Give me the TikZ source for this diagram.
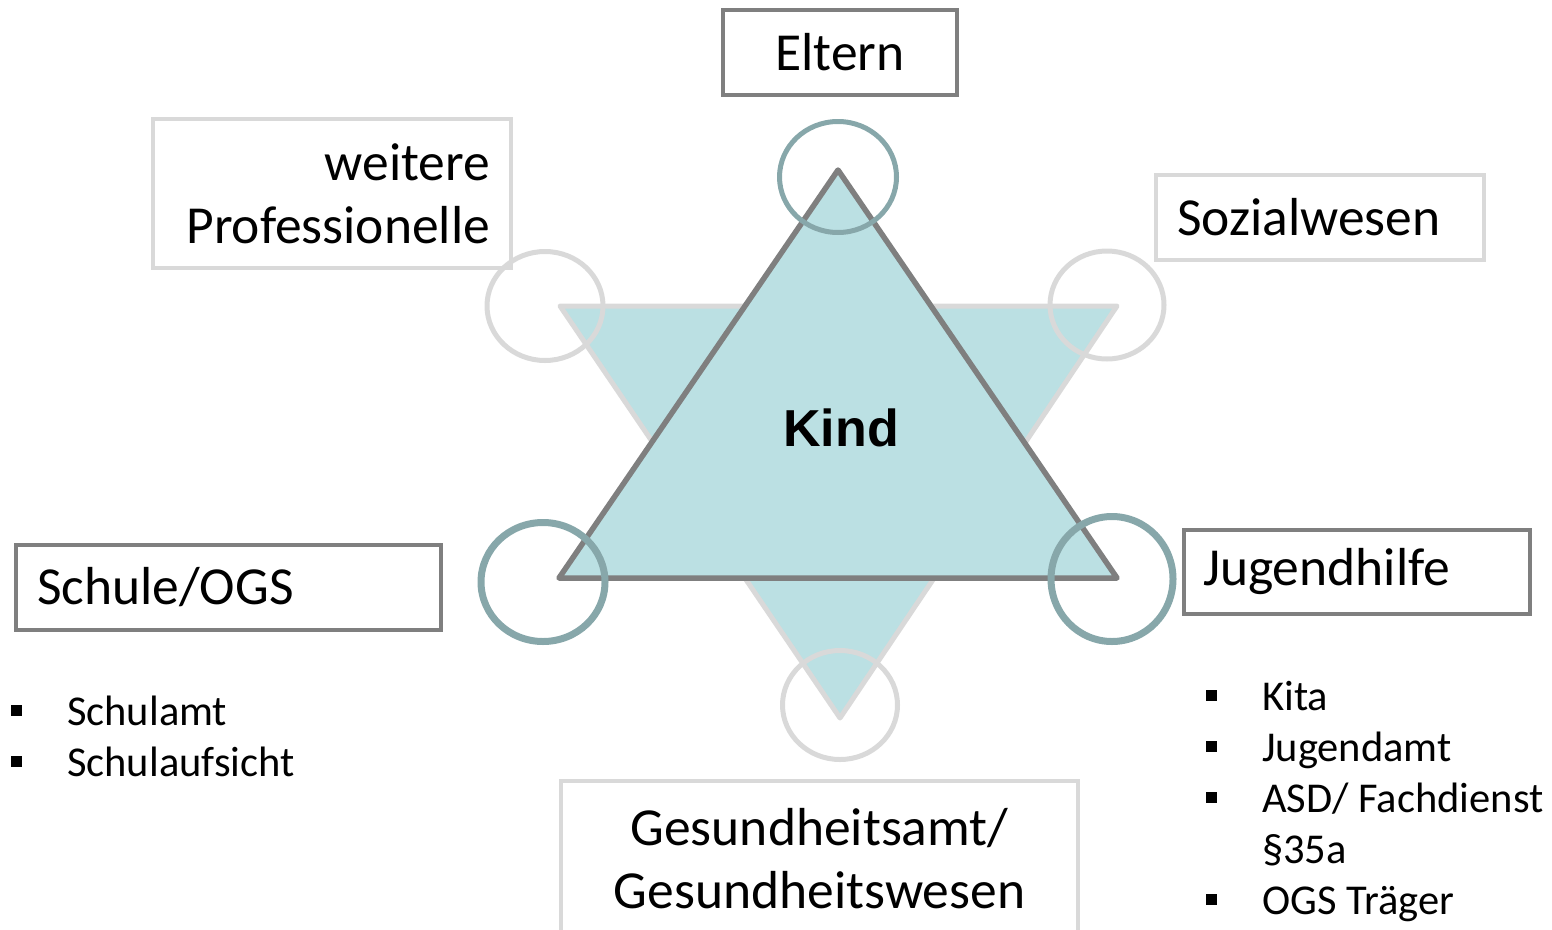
\documentclass[tikz,border=0pt]{standalone}
\usepackage{fontspec}
\setmainfont{Carlito}
\newfontfamily\kindfont{Liberation Sans}
\usetikzlibrary{shapes.geometric}
\usetikzlibrary{positioning}
\definecolor{tealfill}{HTML}{BBE0E3}
\definecolor{darkline}{HTML}{7F7F7F}
\definecolor{lightline}{HTML}{D9D9D9}
\definecolor{ringline}{HTML}{87A7AA}
\newcommand{\bul}{\llap{\rule[9pt]{11pt}{11pt}\hspace{45.5pt}}}

\begin{document}
\begin{tikzpicture}[x=1pt,y=-1pt,node distance=51pt,auto]
 \tikzstyle{dark box}=[rectangle,draw=darkline,line width=4pt,inner sep=0pt]
 \tikzstyle{light box}=[rectangle,draw=lightline,line width=4pt,inner sep=0pt]
 \tikzset{
 	big text/.style={font=\fontsize{53.5}{63}\selectfont},
 	list text/.style={font=\fontsize{42.5}{51}\selectfont,anchor=base west,inner sep=0pt},
 	dark ring/.style={ellipse,draw=ringline,line width=7pt,inner sep=0pt},
 	light ring/.style={ellipse,draw=lightline,line width=5pt,inner sep=0pt}
 }

 \useasboundingbox (0,0) rectangle (1552,929);

       \coordinate (dl) at (560,306);
       \coordinate (dr) at (1117,306);
       \coordinate (db) at (840,718);
       \coordinate (ut) at (838,170);
       \coordinate (ul) at (559,578);
       \coordinate (ur) at (1117,578);

     \draw[draw=lightline,fill=tealfill,line width=5pt,line join=round] (dl) -- (dr) -- (db) -- cycle;
     \draw[draw=darkline,fill=tealfill,line width=5.5pt,line join=round] (ut) -- (ul) -- (ur) -- cycle;

       \node[font=\kindfont\bfseries\fontsize{52}{62}\selectfont] (kind) at (841,428) {Kind};

       \node[dark ring,line width=5pt,minimum width=117pt,minimum height=111pt] (rt) at (838,177) {};
       \node[dark ring,minimum width=124pt,minimum height=119pt] (rbl) at (543,582) {};
       \node[dark ring,minimum width=122pt,minimum height=125pt] (rbr) at (1112,579) {};
       \node[light ring,minimum width=116pt,minimum height=109pt] (rtl) at (545,306) {};
       \node[light ring,minimum width=114pt,minimum height=108pt] (rtr) at (1107,305) {};
       \node[light ring,minimum width=115pt,minimum height=109pt] (rb) at (840,705) {};

       \node[dark box,big text,minimum width=234pt,minimum height=85pt] (eltern) at (840,52.5) {Eltern};
       \node[light box,big text,align=right,text width=316pt,inner xsep=21pt,minimum height=149pt] (weitere) at (332,193.5) {weitere\\Professionelle};
       \node[light box,big text,align=left,text width=286pt,inner xsep=21pt,minimum height=85pt] (sozial) at (1320,217.5) {Sozialwesen};
       \node[dark box,big text,align=left,text width=383pt,inner xsep=21pt,minimum height=85pt] (schule) at (228.5,587.5) {Schule/OGS};
       \node[dark box,big text,align=left,text width=308pt,inner xsep=19pt,minimum height=84pt] (jugend) at (1357,572) {Jugendhilfe};
       \node[light box,big text,align=center,text width=475pt,inner xsep=21pt,minimum height=156pt] (gesund) at (819.5,859) {Gesundheitsamt/\\Gesundheitswesen};

       \node[list text] (schulamt) at (67,725) {\bul Schulamt};
       \node[list text] (aufsicht) [below=51pt of schulamt.base west,anchor=base west] {\bul Schulaufsicht};

       \node[list text] (kita) at (1262,710) {\bul Kita};
       \node[list text] (jamt) [below=51pt of kita.base west,anchor=base west] {\bul Jugendamt};
       \node[list text] (asd) [below=51pt of jamt.base west,anchor=base west] {\bul ASD/ Fachdienst};
       \node[list text] (para) [below=51pt of asd.base west,anchor=base west] {§35a};
       \node[list text] (ogs) [below=51pt of para.base west,anchor=base west] {\bul OGS Träger};
 \end{tikzpicture}
\end{document}
